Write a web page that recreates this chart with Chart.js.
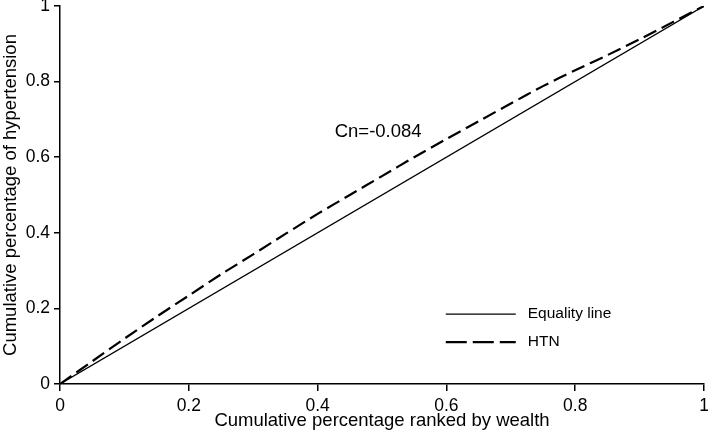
<!DOCTYPE html>
<html>
<head>
<meta charset="utf-8">
<script src="https://cdn.jsdelivr.net/npm/chart.js@4/dist/chart.umd.min.js"></script>
<style>
  html, body { margin: 0; padding: 0; background: #fff; }
  #wrap { width: 708px; height: 432px; }
</style>
</head>
<body>
<div id="wrap"><canvas id="cc" width="708" height="432"></canvas></div>
<script>
// 集中曲線: 均等線 と HTN の累積割合
var rankX = [0, 0.05, 0.1, 0.15, 0.2, 0.25, 0.3, 0.35, 0.4, 0.45, 0.5,
             0.55, 0.6, 0.65, 0.7, 0.75, 0.8, 0.85, 0.9, 0.95, 1];
var htnY  = [0, 0.06, 0.12, 0.178, 0.234, 0.29, 0.343, 0.397, 0.45, 0.5, 0.55,
             0.6, 0.648, 0.695, 0.742, 0.788, 0.83, 0.87, 0.912, 0.956, 1];
var equalX = [0, 1];
var equalY = [0, 1];
var seriesLabels = ["Equality line", "HTN"];
var cnText = "Cn=-0.084";
var xTitle = "Cumulative percentage ranked by wealth";
var yTitle = "Cumulative percentage of hypertension";

var FONT = "'Liberation Sans', Arial, sans-serif";

function pts(xs, ys) {
    return xs.map(function (x, i) { return { x: x, y: ys[i] }; });
}
function fmt(v) { return String(Number(v.toFixed(1))); }

// 凡例と注記はプロット内に直接描く
var overlay = {
    id: "overlay",
    afterDatasetsDraw: function (chart) {
        var ctx = chart.ctx, xs = chart.scales.x, ys = chart.scales.y;
        ctx.save();
        ctx.fillStyle = "#000";
        ctx.font = "18.5px " + FONT;
        ctx.textAlign = "center";
        ctx.textBaseline = "middle";
        ctx.fillText(cnText, xs.getPixelForValue(0.494), ys.getPixelForValue(0.667));

        ctx.font = "15.5px " + FONT;
        ctx.textAlign = "left";
        var lx = xs.getPixelForValue(0.599), ly = ys.getPixelForValue(0.185);
        chart.data.datasets.forEach(function (ds, i) {
            var y = ly + i * 28;
            ctx.strokeStyle = ds.borderColor;
            ctx.lineWidth = ds.borderWidth;
            ctx.setLineDash(i === 1 ? [21, 6] : []);
            ctx.beginPath();
            ctx.moveTo(lx, y);
            ctx.lineTo(lx + 70, y);
            ctx.stroke();
            ctx.fillText(ds.label, lx + 82, y);
        });
        ctx.restore();
    }
};

new Chart(document.getElementById("cc").getContext("2d"), {
    type: "line",
    data: {
        datasets: [
            { label: seriesLabels[0], data: pts(equalX, equalY), borderColor: "#000",
              borderWidth: 1.3, pointRadius: 0, fill: false },
            { label: seriesLabels[1], data: pts(rankX, htnY), borderColor: "#000",
              borderWidth: 2.2, borderDash: [14, 6], pointRadius: 0, fill: false, tension: 0.3 }
        ]
    },
    options: {
        responsive: false,
        animation: false,
        layout: { padding: { top: 6, right: 4, left: 0, bottom: 0 } },
        plugins: { legend: { display: false }, tooltip: { enabled: false } },
        scales: {
            x: {
                type: "linear", min: 0, max: 1,
                afterFit: function (s) { s.height = 48; s.paddingLeft = 0; s.paddingRight = 0; },
                ticks: { stepSize: 0.2, color: "#000", padding: 5, callback: fmt,
                         font: { family: FONT, size: 17.5 }, maxRotation: 0 },
                grid: { drawOnChartArea: false, tickLength: 7, color: "#000", lineWidth: 1.5 },
                border: { color: "#000", width: 1.5 },
                title: { display: true, text: xTitle, color: "#000", padding: 0,
                         font: { family: FONT, size: 18.5 } }
            },
            y: {
                type: "linear", min: 0, max: 1,
                afterFit: function (s) { s.width = 60; s.paddingTop = 0; s.paddingBottom = 0; },
                ticks: { stepSize: 0.2, color: "#000", padding: 4, callback: fmt,
                         font: { family: FONT, size: 17.5 } },
                grid: { drawOnChartArea: false, tickLength: 6, color: "#000", lineWidth: 1.5 },
                border: { color: "#000", width: 1.5 },
                title: { display: true, text: yTitle, color: "#000", padding: 0,
                         font: { family: FONT, size: 18.5 } }
            }
        }
    },
    plugins: [overlay]
});
</script>
</body>
</html>
